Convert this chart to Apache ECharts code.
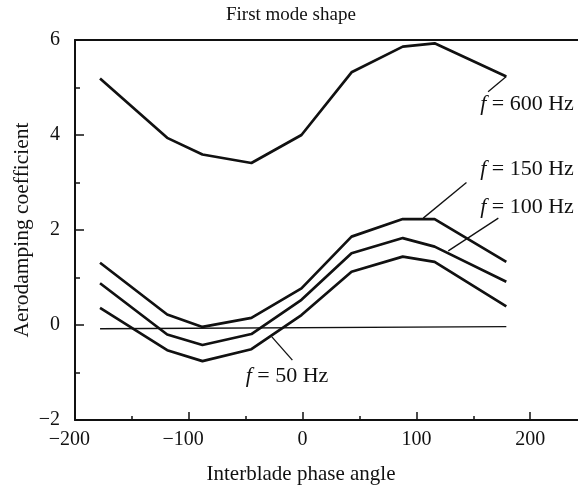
<!DOCTYPE html>
<html>
<head>
<meta charset="utf-8">
<script src="https://cdn.jsdelivr.net/npm/echarts@6/dist/echarts.min.js"></script>
<style>
html, body { margin: 0; padding: 0; background: #fff; }
#chart { width: 578px; height: 489px; }
</style>
</head>
<body>
<div id="chart"></div>
<script>
// Interblade phase angle (deg) at which the coefficients were computed
const phaseAngle = [-178, -119, -88, -45, -1, 43, 88, 116, 179];

// Aerodamping coefficient per excitation frequency
const coef600 = [5.19, 3.94, 3.59, 3.41, 4.00, 5.32, 5.86, 5.93, 5.23];
const coef150 = [1.31, 0.22, -0.04, 0.15, 0.77, 1.86, 2.23, 2.23, 1.33];
const coef100 = [0.88, -0.20, -0.42, -0.19, 0.53, 1.51, 1.83, 1.65, 0.91];
const coef50  = [0.36, -0.53, -0.76, -0.51, 0.21, 1.12, 1.44, 1.33, 0.39];

// Near-zero reference line
const baseAngle = [-178, 179];
const baseValue = [-0.08, -0.035];

// Axis ticks
const xMajorTicks = [-200, -100, 0, 100, 200];
const xMinorTicks = [-150, -50, 50, 150];

// Curve labels: text, anchor [angle, value], leader start, leader end
const curveLabels = [
  { text: '600 Hz', at: [156, 4.64], from: [179, 5.23], to: [163, 4.91] },
  { text: '150 Hz', at: [156, 3.29], from: [106, 2.25], to: [144, 3.00] },
  { text: '100 Hz', at: [156, 2.48], from: [128, 1.56], to: [172, 2.25] },
  { text: '50 Hz',  at: [-50, -1.07], from: [-27, -0.25], to: [-9, -0.74] }
];

const FONT = 'Liberation Serif';
const INK = '#111';

const pairs = (xs, ys) => xs.map((x, i) => [x, ys[i]]);
const minus = v => String(v).replace('-', '\u2212');
// keep the digits centred on the tick; the minus sign hangs to the left
const xTickText = v => v < 0 ? minus(v) + '{gap|\u2212}' : String(v);

const curve = (name, values) => ({
  name: name,
  type: 'line',
  data: pairs(phaseAngle, values),
  symbol: 'none',
  lineStyle: { color: INK, width: 2.7 },
  silent: true
});

const chart = echarts.init(document.getElementById('chart'), null, { renderer: 'canvas' });

chart.setOption({
  animation: false,
  backgroundColor: '#fff',
  title: {
    text: 'First mode shape',
    left: 226,
    top: 6,
    padding: 0,
    textStyle: { fontFamily: FONT, fontSize: 19, fontWeight: 'normal', color: INK }
  },
  grid: { left: 75, right: 0, top: 40, bottom: 69, containLabel: false, outerBoundsMode: 'none' },
  xAxis: [
    {
      type: 'value', position: 'bottom', min: -200, max: 242,
      name: 'Interblade phase angle', nameLocation: 'middle', nameGap: 44,
      nameMoveOverlap: false,
      nameTextStyle: { fontFamily: FONT, fontSize: 21, color: INK, padding: [0, 51, 0, 0] },
      axisLine: { onZero: false, lineStyle: { color: INK, width: 2 } },
      axisTick: { inside: true, length: 8, customValues: xMajorTicks, lineStyle: { color: INK, width: 1.5 } },
      axisLabel: {
        customValues: xMajorTicks, margin: 10, fontFamily: FONT, fontSize: 20, color: INK,
        formatter: xTickText,
        rich: { gap: { fontFamily: FONT, fontSize: 20, color: 'rgba(0,0,0,0)' } }
      },
      splitLine: { show: false }
    },
    {
      type: 'value', position: 'bottom', min: -200, max: 242,
      axisLine: { show: false, onZero: false },
      axisTick: { inside: true, length: 4, customValues: xMinorTicks, lineStyle: { color: INK, width: 1.5 } },
      axisLabel: { show: false },
      splitLine: { show: false }
    },
    {
      type: 'value', position: 'top', min: -200, max: 242,
      axisLine: { onZero: false, lineStyle: { color: INK, width: 2 } },
      axisTick: { show: false },
      axisLabel: { show: false },
      splitLine: { show: false }
    }
  ],
  yAxis: {
    type: 'value', position: 'left', min: -2, max: 6, interval: 2,
    name: 'Aerodamping coefficient', nameLocation: 'middle', nameGap: 42,
    nameMoveOverlap: false,
    nameTextStyle: { fontFamily: FONT, fontSize: 21.5, color: INK },
    axisLine: { onZero: false, lineStyle: { color: INK, width: 2 } },
    axisTick: { inside: true, length: 9, lineStyle: { color: INK, width: 1.5 } },
    minorTick: { show: true, splitNumber: 2, length: 5, lineStyle: { color: INK, width: 1.5 } },
    axisLabel: { margin: 15, fontFamily: FONT, fontSize: 20, color: INK, formatter: minus },
    splitLine: { show: false }
  },
  series: [
    curve('f = 600 Hz', coef600),
    curve('f = 150 Hz', coef150),
    curve('f = 100 Hz', coef100),
    curve('f = 50 Hz', coef50),
    {
      name: 'reference',
      type: 'line',
      data: pairs(baseAngle, baseValue),
      symbol: 'none',
      lineStyle: { color: INK, width: 1.4 },
      silent: true
    },
    {
      name: 'annotations',
      type: 'line',
      data: [],
      silent: true,
      markLine: {
        silent: true,
        symbol: 'none',
        label: { show: false },
        lineStyle: { color: INK, width: 1.3, type: 'solid' },
        data: curveLabels.map(c => [{ coord: c.from }, { coord: c.to }])
      },
      markPoint: {
        silent: true,
        symbol: 'circle',
        symbolSize: 0,
        label: {
          show: true,
          position: 'right',
          distance: 0,
          fontFamily: FONT,
          fontSize: 22,
          color: INK,
          rich: { i: { fontFamily: FONT, fontSize: 22, fontStyle: 'italic', color: INK } }
        },
        data: curveLabels.map(c => ({
          coord: c.at,
          label: { formatter: '{i|f} = ' + c.text }
        }))
      }
    }
  ]
});
</script>
</body>
</html>
